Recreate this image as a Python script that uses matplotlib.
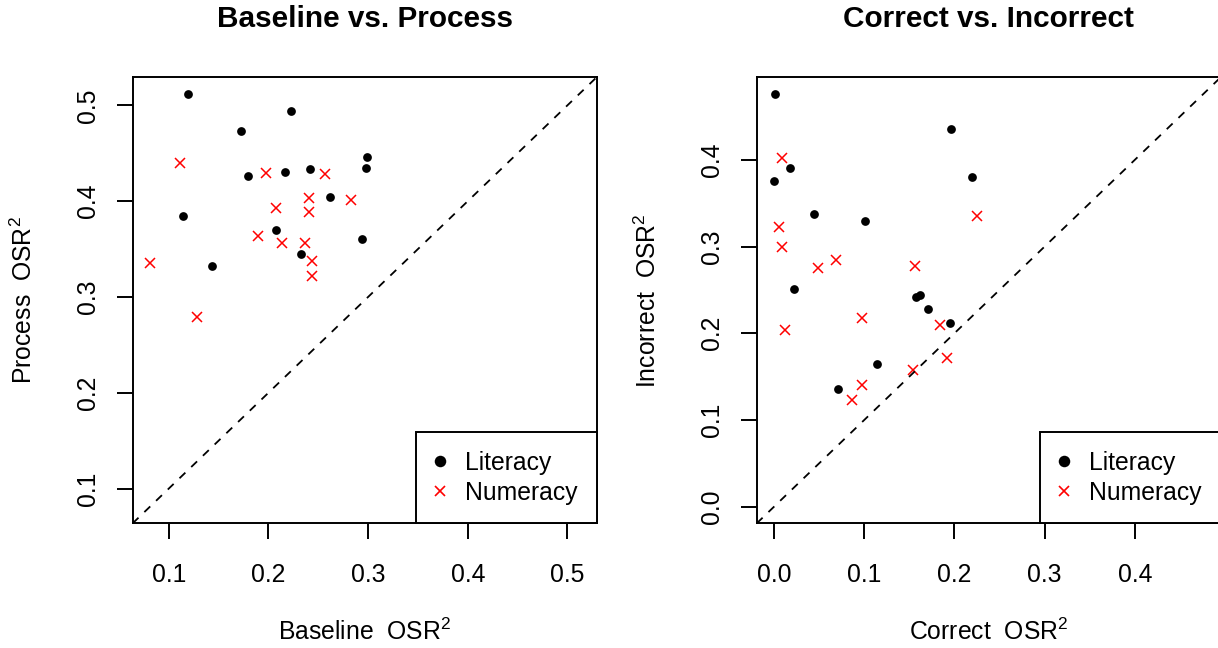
import matplotlib
matplotlib.use('Agg')
import matplotlib.pyplot as plt
from matplotlib.lines import Line2D

plt.rcParams['font.family'] = ['Liberation Sans', 'DejaVu Sans']
plt.rcParams['mathtext.fontset'] = 'custom'
plt.rcParams['mathtext.rm'] = 'Liberation Sans'
plt.rcParams['mathtext.it'] = 'Liberation Sans:italic'

# left plot: Baseline vs. Process
base_lit = [0.119, 0.223, 0.172, 0.299, 0.298, 0.180, 0.217, 0.242, 0.262,
            0.114, 0.208, 0.294, 0.233, 0.143]
proc_lit = [0.512, 0.494, 0.473, 0.446, 0.435, 0.426, 0.430, 0.434, 0.404,
            0.385, 0.370, 0.361, 0.345, 0.332]
base_num = [0.111, 0.198, 0.257, 0.241, 0.283, 0.208, 0.241, 0.190, 0.214,
            0.237, 0.244, 0.244, 0.081, 0.128]
proc_num = [0.440, 0.429, 0.428, 0.403, 0.401, 0.393, 0.389, 0.364, 0.356,
            0.356, 0.338, 0.322, 0.335, 0.279]

# right plot: Correct vs. Incorrect
corr_lit = [0.001, 0.196, 0.018, 0.000, 0.219, 0.044, 0.101, 0.022, 0.157,
            0.162, 0.171, 0.195, 0.114, 0.071]
inc_lit = [0.476, 0.436, 0.390, 0.376, 0.380, 0.338, 0.329, 0.251, 0.242,
           0.244, 0.228, 0.212, 0.165, 0.136]
corr_num = [0.009, 0.225, 0.006, 0.009, 0.069, 0.049, 0.156, 0.012, 0.098,
            0.184, 0.192, 0.154, 0.098, 0.086]
inc_num = [0.402, 0.335, 0.323, 0.300, 0.284, 0.275, 0.278, 0.204, 0.218,
           0.209, 0.172, 0.158, 0.140, 0.123]

ticks_left = [0.1, 0.2, 0.3, 0.4, 0.5]
ticks_right = [0.0, 0.1, 0.2, 0.3, 0.4]

FS = 17.8


def panel(ax, xl, yl, xn, yn, ticks, title, xlab, ylab):
    ax.plot(xl, yl, 'o', color='black', ms=6.3, mew=0)
    ax.plot(xn, yn, 'x', color='red', ms=7.2, mew=1.1)

    # same range on both axes, R style 4% padding
    vals = xl + yl + xn + yn
    lo, hi = min(vals), max(vals)
    pad = 0.04 * (hi - lo)
    ax.set_xlim(lo - pad, hi + pad)
    ax.set_ylim(lo - pad, hi + pad)
    ax.axline((0, 0), (1, 1), color='black', lw=1.3, ls=(0, (4.5, 4.5)))

    ax.set_xticks(ticks)
    ax.set_xticklabels(['%.1f' % t for t in ticks])
    ax.set_yticks(ticks)
    ax.set_yticklabels(['%.1f' % t for t in ticks], rotation=90, va='center')
    ax.tick_params(direction='out', length=11.3, width=1.4, labelsize=FS)
    ax.tick_params(axis='x', pad=17.3)
    ax.tick_params(axis='y', pad=12.1)
    for s in ax.spines.values():
        s.set_linewidth(1.4)

    ax.set_title(title, fontsize=21.4, fontweight='bold', pad=0, y=1.112)
    ax.set_xlabel(xlab, fontsize=FS, va='baseline')
    ax.xaxis.set_label_coords(0.5, -0.2617)
    ax.set_ylabel(ylab, fontsize=FS, va='baseline')
    ax.yaxis.set_label_coords(-0.2164, 0.5)

    h1 = Line2D([], [], ls='none', marker='o', color='black', ms=8.3, mew=0)
    h2 = Line2D([], [], ls='none', marker='x', color='red', ms=7.8, mew=1.2)
    leg = ax.legend([h1, h2], ['Literacy', 'Numeracy'], loc='lower right',
                    borderaxespad=0, fancybox=False, framealpha=1,
                    edgecolor='black', fontsize=FS, borderpad=0.76,
                    handlelength=0.45, handletextpad=0.79, labelspacing=0.22)
    leg.get_frame().set_linewidth(1.4)


fig = plt.figure(figsize=(12.18, 6.48), dpi=100)
ax1 = fig.add_axes([0.1089, 0.1924, 0.3809, 0.6883])
ax2 = fig.add_axes([0.6213, 0.1924, 0.3809, 0.6883])

panel(ax1, base_lit, proc_lit, base_num, proc_num, ticks_left,
      'Baseline vs. Process', 'Baseline  OSR$^2$', 'Process  OSR$^2$')
panel(ax2, corr_lit, inc_lit, corr_num, inc_num, ticks_right,
      'Correct vs. Incorrect', 'Correct  OSR$^2$', 'Incorrect  OSR$^2$')

fig.savefig('out.png', dpi=100)
